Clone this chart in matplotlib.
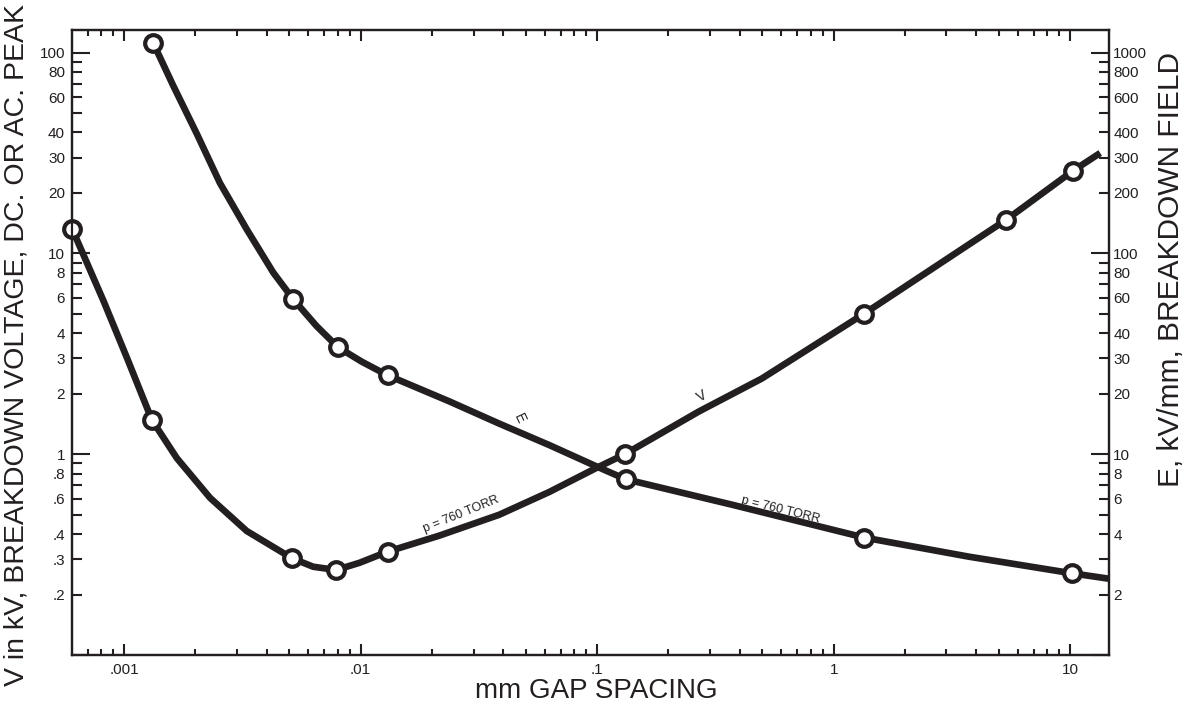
import matplotlib.pyplot as plt
from matplotlib.ticker import FixedLocator, FixedFormatter, NullFormatter

plt.rcParams['font.family'] = ['Liberation Sans', 'DejaVu Sans']

# breakdown voltage V (kV) vs gap (mm)
v_gap = [0.000604, 0.000818, 0.001027, 0.00131, 0.00167, 0.00231, 0.00330, 0.00513,
         0.00630, 0.00788, 0.00991, 0.0130, 0.02153, 0.0385, 0.0627, 0.0991, 0.131,
         0.269, 0.497, 1.34, 5.37, 10.3, 13.4]
v_kv = [13.15, 5.79, 3.02, 1.48, 0.955, 0.605, 0.414, 0.303,
        0.275, 0.265, 0.288, 0.327, 0.393, 0.499, 0.648, 0.853, 1.0,
        1.63, 2.38, 4.99, 14.7, 25.8, 31.6]
v_pts_gap = [0.000604, 0.00131, 0.00513, 0.00788, 0.0130, 0.131, 1.34, 5.37, 10.3]
v_pts_kv = [13.15, 1.48, 0.303, 0.265, 0.327, 1.0, 4.99, 14.7, 25.8]

# breakdown field E (kV/mm) vs gap (mm)
e_gap = [0.00133, 0.00161, 0.00203, 0.00254, 0.00330, 0.00427, 0.00518, 0.00650,
         0.00801, 0.01009, 0.0130, 0.02374, 0.0385, 0.0627, 0.0991, 0.132, 0.372,
         1.35, 3.71, 10.2, 14.5]
e_kvmm = [1110, 686, 393, 224, 131.5, 80.2, 59.2, 43.5,
          34.1, 28.9, 24.7, 18.3, 14.2, 11.1, 8.7, 7.5, 5.6,
          3.84, 3.09, 2.55, 2.40]
e_pts_gap = [0.00133, 0.00518, 0.00801, 0.0130, 0.132, 1.35, 10.2]
e_pts_kvmm = [1110, 59.2, 34.1, 24.7, 7.5, 3.84, 2.55]

x_ticks = [0.001, 0.01, 0.1, 1, 10]
x_labels = ['.001', '.01', '.1', '1', '10']
left_major = [0.1, 1, 10, 100]
left_major_labels = ['', '1', '10', '100']
left_minor = [0.2, 0.3, 0.4, 0.5, 0.6, 0.7, 0.8, 0.9,
              2, 3, 4, 5, 6, 7, 8, 9, 20, 30, 40, 50, 60, 70, 80, 90]
left_minor_labels = ['.2', '.3', '.4', '', '.6', '', '.8', '',
                     '2', '3', '4', '', '6', '', '8', '', '20', '30', '40', '', '60', '', '80', '']
right_major = [1, 10, 100, 1000]
right_major_labels = ['', '10', '100', '1000']
right_minor = [2, 3, 4, 5, 6, 7, 8, 9, 20, 30, 40, 50, 60, 70, 80, 90,
               200, 300, 400, 500, 600, 700, 800, 900]
right_minor_labels = ['2', '', '4', '', '6', '', '8', '', '20', '30', '40', '', '60', '', '80', '',
                      '200', '300', '400', '', '600', '', '800', '']

ink = '#231f20'

fig = plt.figure(figsize=(11.87, 7.09), dpi=100)
ax = fig.add_axes([0.0607, 0.0762, 0.8736, 0.882])
ax2 = ax.twinx()

ax.set_xscale('log')
ax.set_yscale('log')
ax2.set_yscale('log')
ax.set_xlim(0.000602, 14.6)
ax.set_ylim(0.1, 130)
ax2.set_ylim(1, 1300)

ax.plot(v_gap, v_kv, color=ink, lw=4.8, solid_capstyle='butt', solid_joinstyle='round', zorder=3)
ax.plot(v_pts_gap, v_pts_kv, 'o', ms=12, mfc='white', mec=ink, mew=3, zorder=4, clip_on=False)
ax2.plot(e_gap, e_kvmm, color=ink, lw=4.8, solid_capstyle='butt', solid_joinstyle='round', zorder=3)
ax2.plot(e_pts_gap, e_pts_kvmm, 'o', ms=12, mfc='white', mec=ink, mew=3, zorder=4, clip_on=False)

# x axis
ax.xaxis.set_major_locator(FixedLocator(x_ticks))
ax.xaxis.set_major_formatter(FixedFormatter(x_labels))
ax.xaxis.set_minor_formatter(NullFormatter())

# left axis
ax.yaxis.set_major_locator(FixedLocator(left_major))
ax.yaxis.set_major_formatter(FixedFormatter(left_major_labels))
ax.yaxis.set_minor_locator(FixedLocator(left_minor))
ax.yaxis.set_minor_formatter(FixedFormatter(left_minor_labels))

# right axis
ax2.yaxis.set_major_locator(FixedLocator(right_major))
ax2.yaxis.set_major_formatter(FixedFormatter(right_major_labels))
ax2.yaxis.set_minor_locator(FixedLocator(right_minor))
ax2.yaxis.set_minor_formatter(FixedFormatter(right_minor_labels))

ax.tick_params(axis='x', which='both', direction='in', top=True, labelsize=11,
               width=1.5, color=ink, labelcolor=ink, pad=6)
ax.tick_params(axis='x', which='major', length=8)
ax.tick_params(axis='x', which='minor', length=4)
ax.tick_params(axis='y', which='both', direction='in', right=False, labelsize=11,
               width=1.5, color=ink, labelcolor=ink, pad=5)
ax.tick_params(axis='y', which='major', length=13)
ax.tick_params(axis='y', which='minor', length=7)
ax2.tick_params(axis='y', which='both', direction='in', labelsize=11,
                width=1.5, color=ink, labelcolor=ink, pad=3)
ax2.tick_params(axis='y', which='major', length=13)
ax2.tick_params(axis='y', which='minor', length=7)

for a in (ax, ax2):
    for s in a.spines.values():
        s.set_linewidth(1.6)
        s.set_color(ink)

ax.set_xlabel('mm GAP SPACING', fontsize=20, color=ink)
ax.xaxis.set_label_coords(0.506, -0.037)
ax.set_ylabel('V in kV, BREAKDOWN VOLTAGE, DC. OR AC. PEAK', fontsize=20.5, color=ink)
ax.yaxis.set_label_coords(-0.041, 0.496)
ax2.set_ylabel('E, kV/mm, BREAKDOWN FIELD', fontsize=21.5, color=ink, rotation=90)
ax2.yaxis.set_label_coords(1.046, 0.616)

# curve annotations
ax.text(0.0266, 0.501, 'p = 760 TORR', fontsize=9, rotation=22, ha='center', va='center',
        rotation_mode='anchor', color=ink)
ax.text(0.596, 0.530, 'p = 760 TORR', fontsize=9, rotation=-14, ha='center', va='center',
        rotation_mode='anchor', color=ink)
ax.text(0.277, 1.94, 'V', fontsize=10, rotation=30, ha='center', va='center',
        rotation_mode='anchor', color=ink)
ax.text(0.0469, 1.51, 'E', fontsize=10, rotation=-65, ha='center', va='center',
        rotation_mode='anchor', color=ink)

fig.savefig('out.png', dpi=100)
